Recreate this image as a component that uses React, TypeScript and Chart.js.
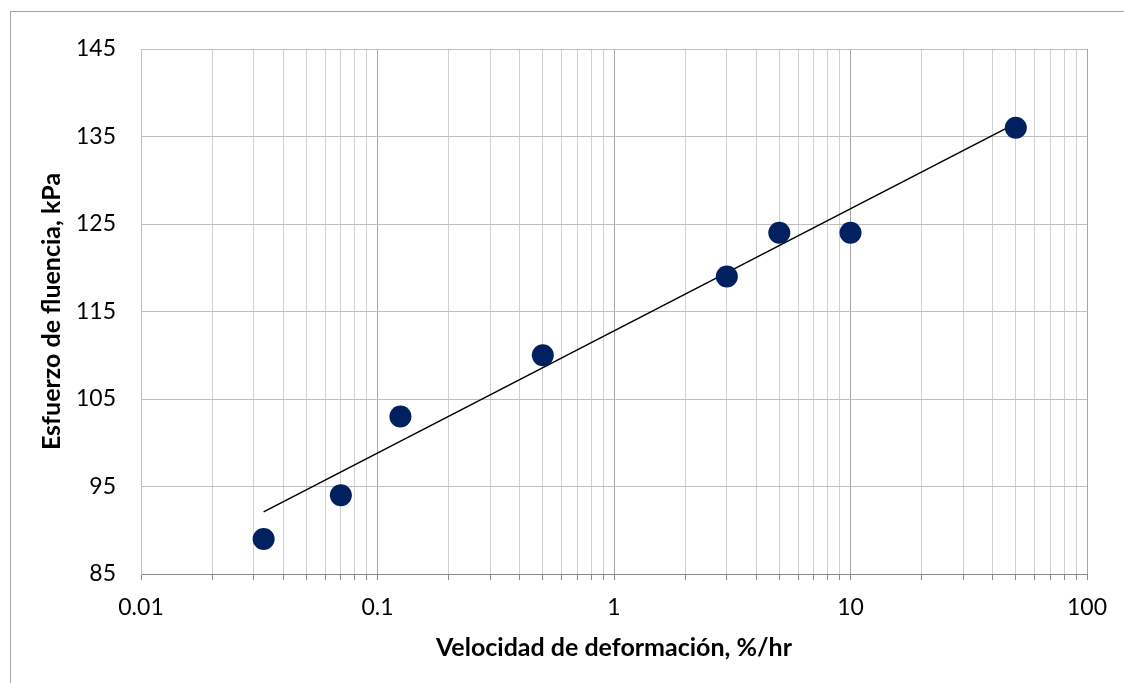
import React, { useEffect, useRef } from "react";
import { Chart, registerables } from "chart.js";

Chart.register(...registerables);

// ---- Data ----
const strainRate: number[] = [0.033, 0.07, 0.125, 0.5, 3, 5, 10, 50];
const yieldStress: number[] = [89, 94, 103, 110, 119, 124, 124, 136];
const trendX: number[] = [0.033, 50];
const trendY: number[] = [92.1, 136.5];
const xMajorTicks: number[] = [0.01, 0.1, 1, 10, 100];
const xTickLabels: string[] = ["0.01", "0.1", "1", "10", "100"];
const yTicks: number[] = [85, 95, 105, 115, 125, 135, 145];
const xTitle = "Velocidad de deformación, %/hr";
const yTitle = "Esfuerzo de fluencia, kPa";

const FONT = "Lato, 'Open Sans', sans-serif";

function buildLogTicks(): number[] {
  const out: number[] = [];
  for (let d = 0; d < xMajorTicks.length - 1; d++) {
    for (let m = 1; m <= 9; m++) {
      out.push(parseFloat((xMajorTicks[d] * m).toPrecision(6)));
    }
  }
  out.push(xMajorTicks[xMajorTicks.length - 1]);
  return out;
}

function majorIndex(v: number): number {
  return xMajorTicks.findIndex((m) => Math.abs(Math.log10(v) - Math.log10(m)) < 1e-6);
}

const borderPlugin = {
  id: "outerBorder",
  beforeDraw(chart: any) {
    const ctx = chart.ctx;
    ctx.save();
    ctx.fillStyle = "#ffffff";
    ctx.fillRect(0, 0, chart.width, chart.height);
    ctx.strokeStyle = "#a6a6a6";
    ctx.lineWidth = 1;
    ctx.strokeRect(10.5, 11.5, chart.width + 50, chart.height + 50);
    ctx.restore();
  },
};

export default function App() {
  const canvasRef = useRef<HTMLCanvasElement | null>(null);

  useEffect(() => {
    document.body.style.margin = "0";
    const canvas = canvasRef.current;
    if (!canvas) return;
    const logTicks = buildLogTicks();

    const chart = new Chart(canvas, {
      type: "scatter",
      data: {
        datasets: [
          {
            label: "Datos",
            data: strainRate.map((x, i) => ({ x, y: yieldStress[i] })),
            backgroundColor: "#002060",
            borderColor: "#002060",
            pointRadius: 11,
            pointHoverRadius: 11,
            borderWidth: 0,
          },
          {
            label: "Tendencia",
            type: "line" as any,
            data: trendX.map((x, i) => ({ x, y: trendY[i] })),
            borderColor: "#000000",
            borderWidth: 1.5,
            pointRadius: 0,
            showLine: true,
            fill: false,
            tension: 0,
          } as any,
        ],
      },
      options: {
        animation: false,
        responsive: false,
        devicePixelRatio: 1,
        layout: { padding: { top: 49, right: 37, bottom: 0, left: 0 } },
        plugins: {
          legend: { display: false },
          tooltip: { enabled: false },
        },
        scales: {
          x: {
            type: "logarithmic",
            min: 0.01,
            max: 100,
            afterBuildTicks: (scale: any) => {
              scale.ticks = logTicks.map((v) => ({ value: v, major: majorIndex(v) >= 0 }));
            },
            afterFit: (scale: any) => {
              scale.height = 109;
            },
            grid: {
              color: (ctx: any) => {
                const v = ctx.tick ? ctx.tick.value : 0;
                return majorIndex(v) >= 0 ? "#a6a6a6" : "#d0d0d0";
              },
              lineWidth: 1,
              drawTicks: true,
              tickLength: 6,
              tickColor: "#8c8c8c",
            },
            border: { color: "#8c8c8c", width: 1 },
            ticks: {
              autoSkip: false,
              maxRotation: 0,
              minRotation: 0,
              padding: 14,
              color: "#000000",
              font: { family: FONT, size: 23 },
              callback: (value: any) => {
                const idx = majorIndex(Number(value));
                return idx >= 0 ? xTickLabels[idx] : "";
              },
            },
            title: {
              display: true,
              text: xTitle,
              color: "#000000",
              font: { family: FONT, size: 25, weight: "bold" },
              padding: { top: 0, bottom: 20 },
            },
          },
          y: {
            type: "linear",
            min: yTicks[0],
            max: yTicks[yTicks.length - 1],
            afterBuildTicks: (scale: any) => {
              scale.ticks = yTicks.map((v) => ({ value: v }));
            },
            afterFit: (scale: any) => {
              scale.width = 141;
            },
            grid: {
              color: "#bfbfbf",
              lineWidth: 1,
              drawTicks: false,
              tickLength: 0,
            },
            border: { color: "#bfbfbf", width: 1 },
            ticks: {
              padding: 25,
              color: "#000000",
              font: { family: FONT, size: 23 },
              callback: (value: any) => String(value),
            },
            title: {
              display: true,
              text: yTitle,
              color: "#000000",
              font: { family: FONT, size: 25, weight: "bold" },
              padding: { top: 37, bottom: 0 },
            },
          },
        },
      },
      plugins: [borderPlugin],
    });

    return () => {
      chart.destroy();
    };
  }, []);

  return (
    <div style={{ width: 1124, height: 683 }}>
      <canvas ref={canvasRef} width={1124} height={683} style={{ display: "block" }} />
    </div>
  );
}
